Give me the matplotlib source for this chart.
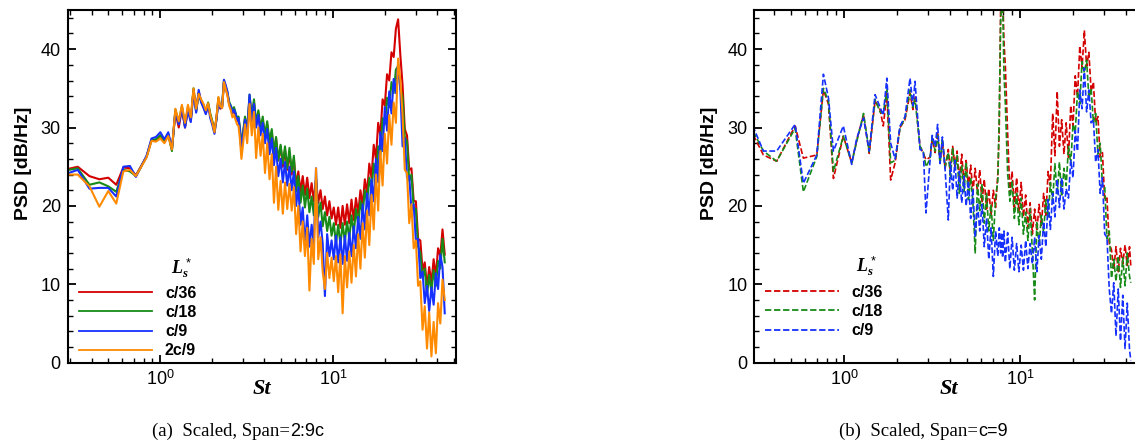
import matplotlib.pyplot as plt
from matplotlib.ticker import MultipleLocator, LogLocator, NullFormatter, FixedLocator, FixedFormatter

plt.rcParams['font.family'] = ['Liberation Sans', 'DejaVu Sans']
plt.rcParams['mathtext.fontset'] = 'custom'
plt.rcParams['mathtext.rm'] = 'Liberation Sans'
plt.rcParams['mathtext.it'] = 'Liberation Serif:italic:bold'
plt.rcParams['mathtext.bf'] = 'Liberation Sans:bold'

# ---- panel (a): Span = 2:9c, solid lines ----
st_a = [
    0.278, 0.333, 0.389, 0.444, 0.5, 0.556, 0.611, 0.667, 0.722, 0.833,
    0.889, 0.944, 1.0, 1.056, 1.111, 1.167, 1.222, 1.278, 1.333, 1.389,
    1.444, 1.5, 1.556, 1.611, 1.667, 1.722, 1.778, 1.833, 1.889, 1.944,
    2.0, 2.056, 2.111, 2.167, 2.222, 2.278, 2.333, 2.389, 2.444, 2.5,
    2.556, 2.611, 2.667, 2.722, 2.778, 2.833, 2.889, 2.944,
    3.0, 3.09, 3.18, 3.28, 3.38, 3.48, 3.58, 3.69, 3.80, 3.91,
    4.03, 4.15, 4.28, 4.41, 4.54, 4.67, 4.81, 4.96, 5.11, 5.26,
    5.42, 5.58, 5.75, 5.92, 6.10, 6.28, 6.47, 6.66, 6.86, 7.07,
    7.28, 7.50, 7.72, 7.95, 8.19, 8.44, 8.69, 8.95, 9.22, 9.50,
    9.78, 10.07,
    10.37, 10.68, 11.0, 11.33, 11.67, 12.02, 12.38, 12.75, 13.14, 13.53,
    13.94, 14.36, 14.79, 15.23, 15.69, 16.16, 16.64, 17.14, 17.66, 18.19,
    18.73, 19.29, 19.87, 20.47, 21.08, 21.71, 22.36, 23.03, 23.72, 24.44,
    25.17, 25.92, 26.70, 27.50, 28.33, 29.18, 30.05, 30.95, 31.88, 32.84,
    33.82, 34.84, 35.88, 36.96, 38.07, 39.21, 40.38, 41.60, 42.84, 44.13,
]

psd_a_36 = [
    24.6, 25.0, 23.8, 23.4, 23.6, 22.7, 24.9, 24.8, 23.9, 26.3,
    28.4, 28.4, 29.0, 28.2, 29.2, 27.2, 32.0, 30.0, 32.4, 30.0,
    32.3, 30.8, 34.8, 32.2, 34.5, 33.4, 32.6, 31.8, 33.0, 31.5,
    30.6, 29.4, 31.2, 33.6, 32.4, 32.6, 35.8, 35.0, 34.2, 33.0,
    32.5, 31.8, 32.2, 31.6, 30.8, 31.0, 29.6, 27.0,
    29.0, 31.2, 29.4, 33.8, 31.2, 33.2, 30.2, 31.8, 29.4, 31.0,
    28.6, 30.4, 27.8, 29.4, 26.6, 28.6, 25.8, 27.6, 25.0, 27.2,
    24.6, 26.8, 24.0, 26.0, 22.6, 24.4, 21.8, 23.8, 21.4, 23.6,
    21.0, 22.9, 20.6, 23.4, 20.4, 22.0, 19.6, 21.2, 18.8, 20.6,
    18.4, 19.8,
    17.6, 19.8, 17.2, 20.0, 17.6, 20.2, 17.8, 20.8, 18.2, 21.0,
    19.0, 22.0, 20.0, 23.4, 21.6, 25.4, 23.6, 27.8, 26.0, 30.6,
    29.0, 33.6, 32.8, 36.8, 36.0, 39.6, 39.0, 42.6, 43.8, 39.2,
    35.4, 29.8, 29.0, 24.6, 24.8, 20.6, 20.6, 15.8, 15.6, 11.8,
    12.8, 9.6, 12.2, 10.2, 13.2, 11.0, 14.6, 13.6, 17.0, 13.8,
]

psd_a_18 = [
    24.5, 24.8, 22.7, 23.0, 22.5, 21.8, 24.6, 24.4, 23.8, 26.3,
    28.4, 28.5, 29.0, 28.3, 29.1, 27.0, 32.3, 30.6, 32.7, 30.2,
    32.5, 31.0, 35.0, 32.0, 34.4, 33.3, 32.8, 32.0, 33.2, 31.8,
    30.8, 29.6, 31.0, 33.8, 32.6, 32.8, 36.0, 35.2, 34.4, 33.3,
    32.8, 32.2, 32.6, 31.9, 31.2, 31.4, 29.9, 27.2,
    29.2, 31.4, 29.6, 34.2, 31.4, 33.6, 30.6, 32.2, 29.8, 31.4,
    29.0, 30.8, 28.2, 29.8, 26.8, 28.8, 25.8, 27.8, 25.4, 27.6,
    24.8, 27.4, 24.4, 26.4, 21.8, 23.8, 20.4, 22.6, 19.8, 22.2,
    19.2, 21.2, 18.8, 23.5, 18.6, 20.4, 17.4, 19.2, 16.8, 18.6,
    16.2, 17.8,
    15.2, 17.6, 15.0, 17.8, 15.4, 18.0, 15.8, 18.8, 16.4, 19.6,
    17.6, 20.6, 19.0, 22.0, 20.4, 23.6, 22.0, 25.4, 23.8, 27.6,
    26.4, 31.2, 30.4, 33.8, 32.6, 35.8, 34.4, 37.4, 37.8, 35.0,
    33.8, 28.8, 28.2, 23.2, 24.0, 19.8, 19.6, 14.8, 14.0, 10.8,
    12.0, 8.6, 11.2, 9.0, 11.8, 9.8, 13.0, 12.0, 15.8, 12.8,
]

psd_a_9 = [
    24.0, 24.6, 22.2, 22.3, 22.3, 21.2, 25.0, 25.1, 23.7, 26.4,
    28.6, 28.8, 29.4, 28.5, 29.4, 27.3, 32.1, 30.4, 32.5, 30.0,
    32.2, 30.7, 34.6, 31.9, 34.8, 33.2, 32.5, 31.7, 32.9, 31.2,
    30.3, 29.2, 31.0, 33.4, 32.5, 32.7, 36.1, 35.4, 34.6, 33.1,
    32.7, 31.9, 32.3, 31.8, 30.9, 31.2, 29.5, 26.8,
    28.8, 31.0, 29.2, 34.2, 30.8, 33.0, 30.0, 31.6, 29.0, 30.6,
    28.0, 29.8, 26.6, 28.6, 25.2, 27.4, 23.8, 26.0, 23.0, 25.6,
    22.6, 25.0, 22.0, 24.4, 20.0, 22.4, 17.6, 19.8, 15.0, 18.8,
    14.8, 17.6, 15.0, 24.8, 16.0, 18.0, 15.2, 8.5, 16.4, 13.6,
    15.6, 13.2,
    16.2, 12.8, 16.0, 12.6, 16.2, 13.0, 16.6, 13.6, 17.4, 14.6,
    18.6, 15.8, 20.2, 17.0, 21.6, 18.8, 23.4, 20.6, 26.0, 23.0,
    29.4, 27.0, 32.6, 29.6, 34.6, 31.8, 36.2, 34.4, 38.2, 34.8,
    27.6, 28.6, 23.6, 23.8, 19.4, 20.2, 15.6, 15.8, 10.8, 11.6,
    7.6, 9.8, 6.6, 9.6, 7.4, 11.4, 9.4, 13.8, 12.2, 6.3,
]

psd_a_29 = [
    24.0, 24.0, 22.5, 19.9, 21.9, 20.3, 24.4, 24.6, 23.8, 26.2,
    28.3, 28.2, 28.6, 28.0, 28.9, 27.2, 32.4, 30.8, 32.9, 30.6,
    32.9, 31.3, 35.0, 32.4, 34.3, 33.6, 33.0, 32.2, 33.1, 31.6,
    30.6, 29.4, 31.3, 33.9, 32.7, 32.5, 35.8, 34.9, 34.1, 32.8,
    32.2, 31.3, 31.6, 31.0, 30.4, 30.2, 28.4, 26.0,
    27.6, 30.4, 28.0, 33.0, 29.0, 32.0, 26.1, 30.0, 26.4, 29.2,
    24.2, 28.0, 23.4, 26.6, 20.4, 25.0, 19.5, 23.2, 19.0, 23.0,
    19.6, 22.8, 19.4, 22.4, 16.4, 20.0, 14.2, 18.0, 13.6, 17.2,
    9.2, 15.8, 12.6, 24.8, 13.2, 16.0, 11.6, 9.4, 14.0, 10.8,
    13.4, 10.4,
    13.6, 9.0, 13.8, 6.3, 13.6, 9.6, 14.2, 10.2, 15.0, 11.0,
    16.4, 12.0, 17.8, 13.4, 19.4, 15.0, 21.4, 17.0, 24.0, 19.4,
    27.0, 22.6, 29.2, 25.4, 31.6, 27.8, 33.2, 30.6, 38.8, 36.0,
    31.6, 24.6, 24.2, 17.8, 20.2, 14.6, 15.6, 9.8, 10.4, 4.2,
    7.2, 1.8, 6.4, 0.8, 5.2, 1.2, 7.6, 5.0, 10.6, 8.0,
]

# ---- panel (b): Span = c/9, dashed lines ----
st_b = [
    0.29, 0.348, 0.414, 0.527, 0.587, 0.70, 0.763, 0.815, 0.87, 0.99,
    1.105, 1.18, 1.29, 1.39, 1.50, 1.60, 1.67, 1.75, 1.84, 1.95,
    2.08, 2.22, 2.37, 2.46, 2.53, 2.70, 2.82, 2.92, 3.08, 3.17,
    3.29, 3.40, 3.51, 3.62, 3.75, 3.91, 4.02, 4.14, 4.27, 4.39,
    4.52, 4.66, 4.80, 4.94, 5.09, 5.24, 5.40, 5.56, 5.73, 5.90,
    6.08, 6.26, 6.45, 6.64, 6.84, 7.05, 7.26, 7.48, 7.62, 7.76,
    7.86, 7.96, 8.10, 8.25, 8.50, 8.75, 9.01, 9.28, 9.56, 9.85,
    10.15, 10.45, 10.76, 11.08, 11.41, 11.75, 12.10, 12.46, 12.83, 13.21,
    13.61, 14.02, 14.44, 14.87, 15.32, 15.78, 16.25, 16.74, 17.24, 17.76,
    18.29, 18.84, 19.41, 19.99, 20.59, 21.21, 21.85, 22.51, 23.19, 23.89,
    24.61, 25.35, 26.11, 26.89, 27.70, 28.53, 29.39, 30.27, 31.18, 32.12,
    33.08, 34.07, 35.09, 36.14, 37.22, 38.34, 39.49, 40.67, 41.89, 42.6,
]

psd_b_36 = [
    30.0, 26.5, 25.7, 30.2, 26.1, 26.5, 34.8, 33.0, 23.5, 28.9,
    25.5, 28.4, 31.6, 26.7, 33.4, 32.3, 30.2, 34.4, 23.3, 25.5,
    30.0, 31.0, 34.4, 32.3, 34.0, 27.6, 26.7, 25.9, 26.2, 28.6,
    26.8, 29.4, 25.6, 28.2, 24.8, 27.2, 24.4, 27.6, 25.0, 27.0,
    23.2, 26.6, 23.0, 25.8, 22.4, 25.2, 21.8, 24.8, 21.6, 24.6,
    20.4, 23.4, 19.6, 22.2, 18.8, 22.0, 19.8, 24.2, 30.0, 46.0,
    50.0, 48.0, 41.0, 37.8, 29.3, 21.6, 24.4, 19.8, 23.6, 19.2,
    23.0, 18.6, 21.4, 17.2, 20.4, 16.4, 19.6, 16.8, 20.2, 17.4,
    21.6, 18.8, 24.4, 22.6, 31.8, 26.4, 34.6, 27.6, 31.0, 26.6,
    30.6, 26.2, 32.8, 30.2, 36.6, 34.0, 40.4, 37.6, 42.4, 37.8,
    39.6, 34.6, 35.8, 30.6, 31.4, 26.2, 26.8, 20.8, 21.0, 15.2,
    14.4, 11.8, 14.8, 11.6, 14.6, 12.6, 15.0, 12.4, 14.8, 12.3,
]

psd_b_18 = [
    30.4, 27.0, 25.7, 29.9, 21.8, 26.3, 35.0, 33.4, 24.4, 28.9,
    25.5, 28.2, 31.8, 26.9, 33.6, 32.0, 31.8, 34.8, 25.5, 25.8,
    30.0, 31.2, 34.8, 32.6, 33.6, 27.6, 26.9, 25.0, 26.0, 28.9,
    27.0, 29.0, 25.4, 28.6, 25.0, 26.8, 23.5, 27.4, 24.6, 26.4,
    21.6, 25.2, 21.8, 25.6, 20.8, 23.6, 20.4, 14.0, 22.8, 19.4,
    22.8, 17.8, 21.6, 16.8, 20.2, 15.6, 21.0, 23.3, 32.0, 43.8,
    45.5, 46.5, 37.0, 33.0, 24.2, 20.6, 23.2, 18.4, 21.6, 17.6,
    21.0, 16.4, 19.2, 15.6, 19.6, 14.2, 8.0, 18.0, 14.8, 18.8,
    16.6, 20.8, 18.4, 23.0, 20.6, 25.4, 21.4, 25.6, 21.2, 24.8,
    22.6, 27.6, 25.4, 30.4, 29.4, 34.6, 33.0, 38.4, 37.0, 38.6,
    33.8, 35.0, 30.6, 31.8, 26.6, 28.0, 22.6, 22.6, 15.8, 16.8,
    10.8, 13.2, 10.4, 13.6, 9.6, 13.4, 9.8, 14.0, 11.0, 10.2,
]

psd_b_9 = [
    31.2, 27.0, 27.0, 30.4, 22.9, 26.5, 36.8, 33.8, 27.0, 30.2,
    25.3, 28.6, 31.2, 27.0, 34.2, 32.6, 31.6, 36.3, 28.0, 26.0,
    30.2, 31.4, 36.3, 32.8, 35.9, 27.2, 27.0, 19.1, 25.8, 29.0,
    27.6, 30.4, 25.4, 28.8, 24.6, 18.2, 25.6, 22.0, 25.8, 21.0,
    24.4, 20.4, 23.8, 20.0, 23.2, 18.4, 22.2, 16.0, 20.4, 16.8,
    20.2, 14.8, 18.4, 13.2, 17.2, 11.0, 16.8, 13.6, 17.2, 14.0,
    16.6, 13.4, 16.8, 12.8, 16.6, 12.0, 16.0, 11.8, 15.2, 11.6,
    15.0, 11.8, 15.6, 12.0, 15.2, 12.6, 16.0, 11.6, 16.2, 13.2,
    18.0, 14.8, 20.8, 17.0, 21.6, 18.6, 23.4, 19.8, 23.6, 19.6,
    22.2, 21.0, 25.8, 23.6, 29.6, 27.0, 34.8, 32.4, 37.6, 32.0,
    34.8, 30.6, 31.0, 25.6, 27.2, 21.6, 23.6, 16.4, 16.0, 9.4,
    6.3, 10.2, 3.4, 9.4, 2.8, 8.6, 1.8, 7.6, 1.6, 0.3,
]

labels_a = ['c/36', 'c/18', 'c/9', '2c/9']
labels_b = ['c/36', 'c/18', 'c/9']
colors = ['#d40000', '#178a17', '#1530ff', '#ff8a00']


def setup_axes(ax, xlim):
    ax.set_xscale('log')
    ax.set_xlim(xlim)
    ax.set_ylim(0, 45)
    ax.xaxis.set_major_locator(FixedLocator([1.0, 10.0]))
    ax.xaxis.set_major_formatter(FixedFormatter([r'$10^{0}$', r'$10^{1}$']))
    ax.xaxis.set_minor_locator(LogLocator(base=10, subs=range(2, 10)))
    ax.xaxis.set_minor_formatter(NullFormatter())
    ax.yaxis.set_major_locator(MultipleLocator(10))
    ax.yaxis.set_minor_locator(MultipleLocator(2))
    ax.tick_params(which='major', direction='in', length=6, width=1.3,
                   top=True, right=True, labelsize=13, pad=5)
    ax.tick_params(which='minor', direction='in', length=3.5, width=1.0,
                   top=True, right=True)
    for s in ax.spines.values():
        s.set_linewidth(1.5)
    ax.set_ylabel('PSD [dB/Hz]', fontsize=14, fontweight='bold')
    ax.yaxis.set_label_coords(-0.093, 0.565)
    ax.set_xlabel('St', fontsize=16, family='Liberation Serif',
                  fontweight='bold', style='italic')
    ax.xaxis.set_label_coords(0.5, -0.045)


fig = plt.figure(figsize=(11.35, 4.45), dpi=100)
ax_a = fig.add_axes([0.0597, 0.185, 0.3421, 0.7926])
ax_b = fig.add_axes([0.6646, 0.185, 0.3425, 0.7926])

for vals, col, lab in zip([psd_a_36, psd_a_18, psd_a_9, psd_a_29], colors, labels_a):
    ax_a.plot(st_a, vals, color=col, lw=1.5, label=lab)
setup_axes(ax_a, (0.2915, 51.3))

for vals, col, lab in zip([psd_b_36, psd_b_18, psd_b_9], colors, labels_b):
    ax_b.plot(st_b, vals, color=col, lw=1.2, ls=(0, (3.5, 1.5)), label=lab)
setup_axes(ax_b, (0.309, 50.0))

leg_prop = {'family': 'Liberation Sans', 'weight': 'bold', 'size': 11.5}
leg_a = ax_a.legend(loc='lower left', bbox_to_anchor=(0.028, 0.012), frameon=False,
                    prop=leg_prop, handlelength=4.6, handletextpad=0.8,
                    labelspacing=0.27, borderpad=0, borderaxespad=0)
leg_b = ax_b.legend(loc='lower left', bbox_to_anchor=(0.028, 0.069), frameon=False,
                    prop=leg_prop, handlelength=4.6, handletextpad=0.8,
                    labelspacing=0.27, borderpad=0, borderaxespad=0)
for leg in (leg_a, leg_b):
    for h in leg.get_lines():
        h.set_linewidth(1.3)

ax_a.text(0.294, 0.268, r'$L_s^*$', transform=ax_a.transAxes,
          fontsize=13, ha='center', va='center')
ax_b.text(0.289, 0.274, r'$L_s^*$', transform=ax_b.transAxes,
          fontsize=13, ha='center', va='center')

# captions: serif part + sans part
fig.text(290 / 1135, 0.020, '(a)  Scaled, Span=', family='Liberation Serif',
         fontsize=13.5, ha='right', va='baseline')
fig.text(290 / 1135, 0.020, '2:9c', family='Liberation Sans',
         fontsize=13, ha='left', va='baseline')
fig.text(978 / 1135, 0.020, '(b)  Scaled, Span=', family='Liberation Serif',
         fontsize=13.5, ha='right', va='baseline')
fig.text(978 / 1135, 0.020, 'c=9', family='Liberation Sans',
         fontsize=13, ha='left', va='baseline')

fig.savefig('out.png', dpi=100)
